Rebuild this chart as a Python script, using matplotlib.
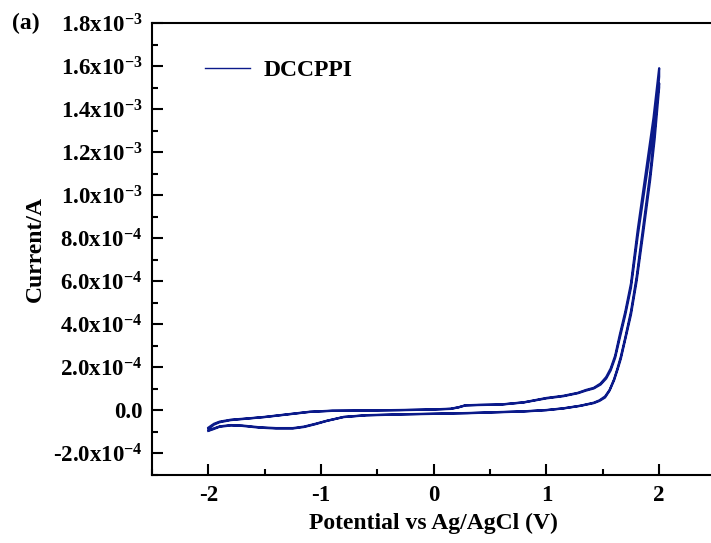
import matplotlib
matplotlib.use("Agg")
import matplotlib.pyplot as plt
from matplotlib.ticker import FixedLocator, FixedFormatter, MultipleLocator

plt.rcParams['font.family'] = ['Liberation Serif', 'DejaVu Serif']
plt.rcParams['font.weight'] = 'bold'
plt.rcParams['mathtext.fontset'] = 'custom'
plt.rcParams['mathtext.rm'] = 'Liberation Serif:bold'
plt.rcParams['mathtext.bf'] = 'Liberation Serif:bold'
plt.rcParams['mathtext.it'] = 'Liberation Serif:italic:bold'

# anodic sweep (-2 V -> +2 V), current in units of 1e-4 A
fwd_v = [-2.0, -1.95, -1.9, -1.8, -1.65, -1.5, -1.3, -1.1, -0.9, -0.6, -0.3, 0.0,
         0.15, 0.22, 0.28, 0.4, 0.6, 0.8, 1.0, 1.15, 1.28, 1.35, 1.42, 1.48, 1.53,
         1.57, 1.61, 1.65, 1.70, 1.75, 1.81, 1.88, 1.95, 2.0]
fwd_i1 = [-0.80, -0.62, -0.52, -0.43, -0.37, -0.30, -0.18, -0.06, -0.01, 0.0, 0.02, 0.05,
          0.08, 0.15, 0.24, 0.26, 0.28, 0.38, 0.58, 0.68, 0.82, 0.95, 1.05, 1.25, 1.55,
          1.95, 2.55, 3.5, 4.6, 5.9, 8.4, 11.0, 13.6, 15.9]
fwd_i2 = [-0.86, -0.66, -0.55, -0.45, -0.38, -0.31, -0.19, -0.07, -0.02, -0.01, 0.01, 0.04,
          0.07, 0.14, 0.23, 0.25, 0.27, 0.37, 0.56, 0.66, 0.80, 0.92, 1.02, 1.20, 1.48,
          1.86, 2.45, 3.35, 4.45, 5.7, 8.1, 10.6, 13.1, 15.2]

# cathodic sweep (+2 V -> -2 V)
rev_v = [2.0, 1.96, 1.92, 1.86, 1.80, 1.75, 1.70, 1.66, 1.63, 1.60, 1.56, 1.52, 1.47,
         1.42, 1.3, 1.15, 1.0, 0.8, 0.6, 0.3, 0.0, -0.3, -0.6, -0.8, -0.95, -1.05,
         -1.15, -1.25, -1.4, -1.55, -1.7, -1.8, -1.9, -1.96, -2.0]
rev_i1 = [15.5, 13.0, 11.0, 8.6, 6.2, 4.6, 3.4, 2.5, 1.95, 1.45, 0.95, 0.65, 0.47,
          0.36, 0.22, 0.10, 0.02, -0.04, -0.07, -0.12, -0.15, -0.18, -0.22, -0.30, -0.48, -0.62,
          -0.75, -0.82, -0.82, -0.78, -0.70, -0.68, -0.74, -0.85, -0.93]
rev_i2 = [15.0, 12.6, 10.7, 8.3, 6.0, 4.45, 3.3, 2.4, 1.88, 1.40, 0.92, 0.60, 0.44,
          0.34, 0.21, 0.09, 0.01, -0.05, -0.08, -0.13, -0.16, -0.19, -0.23, -0.31, -0.49, -0.64,
          -0.77, -0.84, -0.84, -0.80, -0.72, -0.70, -0.76, -0.88, -0.95]

y_ticks = [-2e-4, 0, 2e-4, 4e-4, 6e-4, 8e-4, 1.0e-3, 1.2e-3, 1.4e-3, 1.6e-3, 1.8e-3]
y_labels = ['-2.0x10$^{-4}$', '0.0', '2.0x10$^{-4}$', '4.0x10$^{-4}$', '6.0x10$^{-4}$',
            '8.0x10$^{-4}$', '1.0x10$^{-3}$', '1.2x10$^{-3}$', '1.4x10$^{-3}$',
            '1.6x10$^{-3}$', '1.8x10$^{-3}$']
x_ticks = [-2, -1, 0, 1, 2]
x_labels = ['-2', '-1', '0', '1', '2']

v = fwd_v + rev_v + fwd_v + rev_v
cur = [c * 1e-4 for c in fwd_i1 + rev_i1 + fwd_i2 + rev_i2]

fig = plt.figure(figsize=(7.11, 5.43), dpi=100)
ax = fig.add_axes([152 / 711, 68 / 543, 563.5 / 711, 452 / 543])

color = '#0b1a8a'
ax.plot(v, cur, color=color, lw=1.6, label='DCCPPI')

ax.set_xlim(-2.5, 2.5)
ax.set_ylim(-3e-4, 1.8e-3)
ax.xaxis.set_major_locator(FixedLocator(x_ticks))
ax.xaxis.set_major_formatter(FixedFormatter(x_labels))
ax.xaxis.set_minor_locator(MultipleLocator(0.5))
ax.yaxis.set_major_locator(FixedLocator(y_ticks))
ax.yaxis.set_major_formatter(FixedFormatter(y_labels))
ax.yaxis.set_minor_locator(MultipleLocator(1e-4))

ax.tick_params(which='both', direction='in', width=1.5, labelsize=16.5, pad=7)
ax.tick_params(which='major', length=8)
ax.tick_params(which='minor', length=4)
for s in ax.spines.values():
    s.set_linewidth(1.5)

ax.set_xlabel('Potential vs Ag/AgCl (V)', fontsize=17, fontweight='bold', labelpad=5)
ax.set_ylabel('Current/A', fontsize=17, fontweight='bold')
ax.yaxis.set_label_coords(-0.188, 0.5)

leg = ax.legend(loc='center left', bbox_to_anchor=(0.094, 0.896), frameon=False,
                borderpad=0, borderaxespad=0, handlelength=1.9, handletextpad=0.6,
                prop={'size': 17, 'weight': 'bold'})
leg.get_lines()[0].set_linewidth(1.0)

fig.text(0.017, 0.957, '(a)', fontsize=17, fontweight='bold', va='center')

fig.savefig('out.png', dpi=100)
